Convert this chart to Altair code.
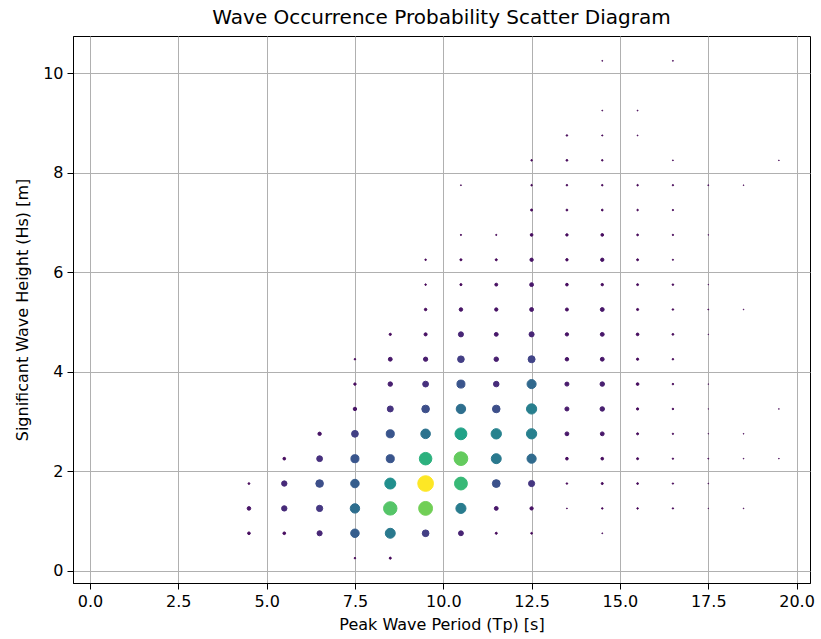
import altair as alt
import pandas as pd

# Peak wave period bins (s) and significant wave height bins (m)
TP = [4.5, 5.5, 6.5, 7.5, 8.5, 9.5, 10.5, 11.5, 12.5, 13.5, 14.5, 15.5, 16.5, 17.5, 18.5, 19.5]
HS = [0.25, 0.75, 1.25, 1.75, 2.25, 2.75, 3.25, 3.75, 4.25, 4.75, 5.25,
      5.75, 6.25, 6.75, 7.25, 7.75, 8.25, 8.75, 9.25, 9.75, 10.25]

# Occurrence probability (%) per Tp column, listed in HS order
p_tp_04_5 = [0, 0.118, 0.209, 0.052, 0, 0, 0, 0, 0, 0, 0, 0, 0, 0, 0, 0, 0, 0, 0, 0, 0]
p_tp_05_5 = [0, 0.118, 0.47, 0.47, 0.118, 0, 0, 0, 0, 0, 0, 0, 0, 0, 0, 0, 0, 0, 0, 0, 0]
p_tp_06_5 = [0, 0.424, 0.64, 0.944, 0.552, 0.189, 0, 0, 0, 0, 0, 0, 0, 0, 0, 0, 0, 0, 0, 0, 0]
p_tp_07_5 = [0.038, 1.179, 1.44, 1.179, 1.058, 0.75, 0.19, 0.095, 0.038, 0, 0, 0, 0, 0, 0, 0, 0, 0, 0, 0, 0]
p_tp_08_5 = [0.069, 1.62, 2.94, 1.976, 1.058, 1.058, 0.586, 0.327, 0.242, 0.082, 0, 0, 0, 0, 0, 0, 0, 0, 0, 0, 0]
p_tp_09_5 = [0, 0.735, 3.14, 4.0, 2.56, 1.5, 0.95, 0.55, 0.3, 0.16, 0.1, 0.038, 0.038, 0, 0, 0, 0, 0, 0, 0, 0]
p_tp_10_5 = [0, 0.395, 1.668, 2.7, 3.05, 2.3, 1.45, 1.05, 0.72, 0.42, 0.2, 0.069, 0.069, 0.022, 0, 0.013, 0, 0, 0, 0, 0]
p_tp_11_5 = [0, 0.069, 0.24, 1.0, 1.62, 1.75, 0.95, 0.5, 0.33, 0.24, 0.18, 0.14, 0.069, 0.022, 0, 0, 0, 0, 0, 0, 0]
p_tp_12_5 = [0, 0.052, 0.18, 0.62, 1.38, 1.72, 1.7, 1.35, 0.8, 0.42, 0.24, 0.24, 0.18, 0.118, 0.069, 0.038, 0.038, 0, 0, 0, 0]
p_tp_13_5 = [0, 0, 0.013, 0.038, 0.118, 0.24, 0.27, 0.27, 0.2, 0.18, 0.15, 0.118, 0.095, 0.095, 0.055, 0.04, 0.052, 0.038, 0, 0, 0]
p_tp_14_5 = [0, 0.013, 0.038, 0.069, 0.118, 0.24, 0.33, 0.33, 0.24, 0.24, 0.24, 0.095, 0.18, 0.118, 0.052, 0.038, 0.038, 0.022, 0.013, 0, 0.013]
p_tp_15_5 = [0, 0, 0.038, 0.052, 0.069, 0.069, 0.082, 0.118, 0.082, 0.118, 0.075, 0.063, 0.063, 0.052, 0.038, 0.038, 0, 0.013, 0.013, 0, 0]
p_tp_16_5 = [0, 0, 0.029, 0.029, 0.029, 0.029, 0.038, 0.038, 0.038, 0.052, 0.038, 0.038, 0.022, 0.029, 0.029, 0.029, 0.013, 0, 0, 0, 0.013]
p_tp_17_5 = [0, 0, 0.005, 0.008, 0.013, 0.005, 0.003, 0.005, 0, 0.005, 0.013, 0.005, 0, 0.005, 0, 0.013, 0, 0, 0, 0, 0]
p_tp_18_5 = [0, 0, 0.008, 0, 0.008, 0.008, 0, 0, 0, 0, 0.008, 0, 0, 0, 0, 0.008, 0, 0, 0, 0, 0]
p_tp_19_5 = [0, 0, 0, 0, 0.008, 0, 0.008, 0, 0, 0, 0, 0, 0, 0, 0, 0, 0.008, 0, 0, 0, 0]

COLUMNS = [p_tp_04_5, p_tp_05_5, p_tp_06_5, p_tp_07_5, p_tp_08_5, p_tp_09_5, p_tp_10_5, p_tp_11_5,
           p_tp_12_5, p_tp_13_5, p_tp_14_5, p_tp_15_5, p_tp_16_5, p_tp_17_5, p_tp_18_5, p_tp_19_5]

X_TICKS = [0.0, 2.5, 5.0, 7.5, 10.0, 12.5, 15.0, 17.5, 20.0]
Y_TICKS = [0, 2, 4, 6, 8, 10]

rows = []
for tp, col in zip(TP, COLUMNS):
    for hs, p in zip(HS, col):
        if p > 0:
            rows.append({"Tp": tp, "Hs": hs, "P": p})
df = pd.DataFrame(rows)

pmin, pmax = df["P"].min(), df["P"].max()
color_scale = alt.Scale(scheme="viridis", domain=[pmin, pmax])

FONT = "DejaVu Sans"

chart = alt.Chart(df).mark_circle(opacity=1, strokeWidth=1).encode(
    x=alt.X("Tp:Q",
            scale=alt.Scale(domain=[-0.48, 20.38], nice=False, zero=False),
            axis=alt.Axis(values=X_TICKS, format=".1f", title="Peak Wave Period (Tp) [s]",
                          titlePadding=7)),
    y=alt.Y("Hs:Q",
            scale=alt.Scale(domain=[-0.25, 10.75], nice=False, zero=False),
            axis=alt.Axis(values=Y_TICKS, format="d", title="Significant Wave Height (Hs) [m]",
                          titlePadding=12)),
    size=alt.Size("P:Q", scale=alt.Scale(domain=[0, pmax], range=[0, 245]), legend=None),
    fill=alt.Fill("P:Q", scale=color_scale, legend=None),
    stroke=alt.Stroke("P:Q", scale=color_scale, legend=None),
).properties(
    width=737,
    height=547,
    title=alt.TitleParams("Wave Occurrence Probability Scatter Diagram", font=FONT, fontSize=20,
                          fontWeight="normal", color="black", anchor="middle", offset=8),
    autosize=alt.AutoSizeParams(type="none"),
    padding={"left": 73, "top": 36, "right": 11, "bottom": 56},
).configure_view(
    stroke="black", strokeWidth=1
).configure_axis(
    zindex=1,
    grid=True, gridColor="#b0b0b0", gridWidth=1,
    domainColor="black", domainWidth=1,
    tickColor="black", tickSize=6, tickWidth=1,
    labelFont=FONT, labelFontSize=16, labelColor="black", labelPadding=4,
    titleFont=FONT, titleFontSize=16, titleColor="black", titleFontWeight="normal",
)

chart.save("out.html", embed_options={"renderer": "svg", "actions": False})
